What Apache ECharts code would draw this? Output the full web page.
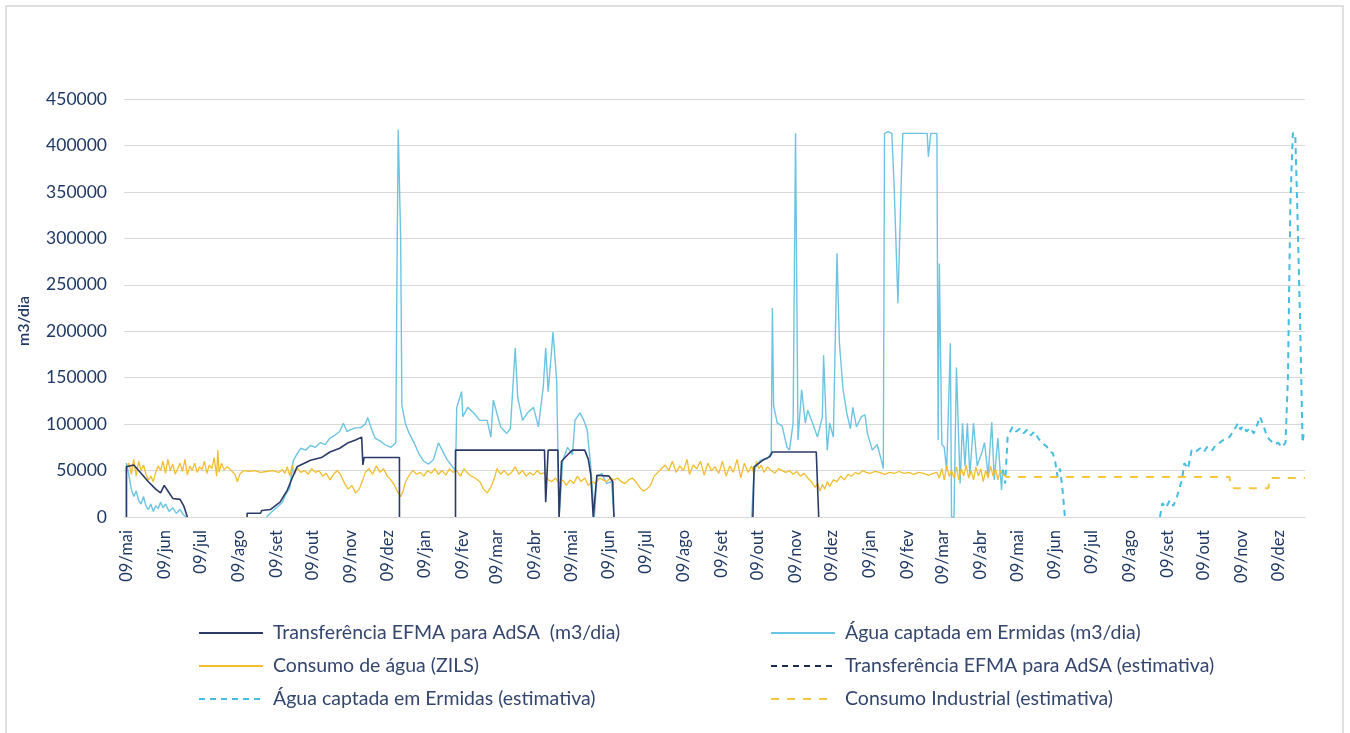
<!DOCTYPE html>
<html>
<head>
<meta charset="utf-8">
<script src="https://cdn.jsdelivr.net/npm/echarts@6/dist/echarts.min.js"></script>
<style>
html,body{margin:0;padding:0;background:#fff;}
#chart{width:1350px;height:733px;}
</style>
</head>
<body>
<div id="chart"></div>
<script>
// x values are days counted from the first "09/mai"
const tickLabels = ['09/mai','09/jun','09/jul','09/ago','09/set','09/out','09/nov','09/dez','09/jan','09/fev','09/mar','09/abr',
  '09/mai','09/jun','09/jul','09/ago','09/set','09/out','09/nov','09/dez','09/jan','09/fev','09/mar','09/abr',
  '09/mai','09/jun','09/jul','09/ago','09/set','09/out','09/nov','09/dez'];
const tickDays = [0,31,61,92,123,153,184,214,245,276,304,335,365,396,426,457,488,518,549,579,610,641,670,701,731,762,792,823,854,884,915,945];

const transferencia = [
  [0,0],[0,54000],[6,56000],[12,47000],[18,38000],[24,30000],[28,26000],[31,34000],[34,28000],[38,20000],[44,19000],[47,12000],[50,0],[51,'-'],
  [99,0],[99,4000],[110,4000],[111,7000],[118,8000],[126,16000],[132,29000],[136,42000],[140,54000],[151,61000],[160,64000],[167,70000],[175,74000],[182,80000],[188,83000],[193,86000],[194,56000],[195,64000],[224,64000],[224,0],[225,'-'],
  [270,0],[270,72000],[343,72000],[344,16000],[346,72000],[354,72000],[355,0],[357,60000],[362,67000],[366,72000],[376,72000],[379,62000],[381,45000],[383,0],[386,45000],[396,44000],[399,38000],[400,0],[401,'-'],
  [514,0],[515,54000],[522,61000],[528,65000],[530,70000],[566,70000],[568,0]
];

const aguaErmidas = [
  [0,0],[0,58000],[2,45000],[4,30000],[6,22000],[8,28000],[10,18000],[12,14000],[14,22000],[16,12000],[18,8000],[20,14000],[22,6000],[24,12000],[26,9000],[28,16000],[30,10000],[32,14000],[35,6000],[38,10000],[41,4000],[44,8000],[47,2000],[49,0],[50,'-'],
  [115,0],[118,4000],[122,9000],[124,11000],[128,16000],[131,25000],[134,31000],[137,61000],[140,68000],[143,74000],[147,72000],[151,77000],[155,75000],[159,80000],[163,78000],[167,85000],[171,88000],[175,92000],[178,101000],[181,92000],[184,94000],[188,96000],[192,96000],[196,100000],[198,107000],[201,95000],[204,85000],[208,82000],[212,78000],[217,75000],[221,80000],[222,270000],[223,417000],[224,417000],[225,300000],[226,120000],[229,100000],[232,90000],[236,80000],[240,68000],[244,60000],[248,57000],[252,62000],[256,80000],[259,72000],[263,62000],[267,55000],[270,50000],[271,118000],[275,135000],[276,108000],[280,118000],[285,112000],[290,104000],[296,104000],[299,86000],[301,126000],[307,97000],[312,90000],[315,95000],[319,182000],[321,129000],[325,104000],[329,112000],[334,118000],[338,97000],[342,140000],[344,182000],[346,135000],[348,166000],[350,199000],[353,147000],[355,0],[358,61000],[362,75000],[366,67000],[368,104000],[372,112000],[375,105000],[378,94000],[381,54000],[384,0],[386,43000],[390,47000],[394,36000],[398,38000],[400,0],[401,'-'],
  [513,0],[515,51000],[520,61000],[526,63000],[529,69000],[530,225000],[531,120000],[534,101000],[538,98000],[542,75000],[544,72000],[547,101000],[549,413000],[551,83000],[554,137000],[557,101000],[559,115000],[563,101000],[567,86000],[571,108000],[572,174000],[575,72000],[577,101000],[580,86000],[583,284000],[585,187000],[588,137000],[591,112000],[594,95000],[596,118000],[599,97000],[603,108000],[606,110000],[608,90000],[612,72000],[616,78000],[620,58000],[621,52000],[622,413000],[625,415000],[628,413000],[630,352000],[633,230000],[636,374000],[637,413000],[657,413000],[658,388000],[660,413000],[665,413000],[666,83000],[667,273000],[669,78000],[671,75000],[673,50000],[676,187000],[677,0],[679,0],[681,161000],[684,36000],[686,101000],[688,55000],[690,101000],[692,45000],[695,101000],[698,55000],[702,70000],[704,80000],[707,45000],[710,102000],[712,40000],[715,85000],[718,29000],[719,51000]
];

const consumoAgua = [
  [0,52000],[2,58000],[4,46000],[6,62000],[8,44000],[10,60000],[12,50000],[14,56000],[16,46000],[18,40000],[20,44000],[22,38000],[24,48000],[26,55000],[28,50000],[30,60000],[32,47000],[34,62000],[36,50000],[38,57000],[40,46000],[42,52000],[44,58000],[46,49000],[48,62000],[50,45000],[52,55000],[54,50000],[56,58000],[58,48000],[60,54000],[62,51000],[64,60000],[66,47000],[68,56000],[70,52000],[72,64000],[74,44000],[75,72000],[76,48000],[78,58000],[80,51000],[83,54000],[86,50000],[89,46000],[91,38000],[93,46000],[96,50000],[100,49000],[105,50000],[110,48000],[115,49000],[120,50000],[125,48000],[128,51000],[130,47000],[132,54000],[134,44000],[136,56000],[138,46000],[140,53000],[143,48000],[146,50000],[149,46000],[152,52000],[155,48000],[158,50000],[161,44000],[164,47000],[167,40000],[170,46000],[173,50000],[176,45000],[179,36000],[182,30000],[185,34000],[188,26000],[191,30000],[194,40000],[196,48000],[199,52000],[202,46000],[205,55000],[208,48000],[211,52000],[214,44000],[217,40000],[220,34000],[223,26000],[225,22000],[227,28000],[229,38000],[232,45000],[235,50000],[238,46000],[241,48000],[244,44000],[247,50000],[250,47000],[253,52000],[256,46000],[259,50000],[262,45000],[265,52000],[268,48000],[271,50000],[274,44000],[277,52000],[280,47000],[283,44000],[286,42000],[290,38000],[293,30000],[296,26000],[299,32000],[302,42000],[304,52000],[307,46000],[310,50000],[313,45000],[316,48000],[319,54000],[322,46000],[325,50000],[328,44000],[331,48000],[334,45000],[337,50000],[340,46000],[343,48000],[346,40000],[349,38000],[352,42000],[355,36000],[358,40000],[361,34000],[364,40000],[367,36000],[370,44000],[373,38000],[376,42000],[379,34000],[382,38000],[385,36000],[388,42000],[391,40000],[394,38000],[397,42000],[400,40000],[403,42000],[406,38000],[409,36000],[412,40000],[415,42000],[418,38000],[421,32000],[424,28000],[427,30000],[430,34000],[433,44000],[436,48000],[439,52000],[442,56000],[445,50000],[448,60000],[451,48000],[454,55000],[457,50000],[460,62000],[462,46000],[465,56000],[468,52000],[471,60000],[474,45000],[477,58000],[480,50000],[483,54000],[486,47000],[489,60000],[492,44000],[495,55000],[498,48000],[501,62000],[504,42000],[507,58000],[510,48000],[513,55000],[515,46000],[517,60000],[519,52000],[521,56000],[523,48000],[526,54000],[529,50000],[532,47000],[535,52000],[538,50000],[541,48000],[544,50000],[547,46000],[550,49000],[553,44000],[556,47000],[559,42000],[562,38000],[565,32000],[567,36000],[569,28000],[571,35000],[573,30000],[575,38000],[577,33000],[580,40000],[583,38000],[586,44000],[589,40000],[592,46000],[595,44000],[598,48000],[601,46000],[604,50000],[607,48000],[610,47000],[614,49000],[618,48000],[622,46000],[626,48000],[630,47000],[634,49000],[638,47000],[642,48000],[646,46000],[650,48000],[654,47000],[658,45000],[662,47000],[665,48000],[667,42000],[669,52000],[671,40000],[673,55000],[675,44000],[677,50000],[679,42000],[681,54000],[683,40000],[685,52000],[687,44000],[689,56000],[691,42000],[693,50000],[695,40000],[697,54000],[699,44000],[701,52000],[703,38000],[705,50000],[707,42000],[709,55000],[711,44000],[713,52000],[715,40000],[717,50000],[719,46000]
];

const transferenciaEstimativa = [];

const aguaEstimativa = [
  [719,51000],[721,36000],[723,86000],[727,97000],[730,92000],[733,95000],[736,90000],[739,94000],[742,88000],[745,92000],[748,85000],[751,80000],[755,76000],[758,70000],[760,69000],[762,60000],[764,43000],[766,52000],[768,30000],[770,0],[771,'-'],
  [848,0],[850,15000],[853,10000],[856,18000],[859,12000],[862,22000],[866,40000],[868,58000],[871,52000],[874,72000],[877,70000],[881,74000],[884,70000],[887,76000],[891,72000],[894,78000],[897,80000],[901,84000],[905,86000],[908,92000],[912,101000],[914,94000],[916,98000],[919,92000],[922,96000],[925,90000],[928,100000],[930,108000],[933,98000],[936,86000],[939,82000],[942,78000],[945,80000],[948,75000],[951,80000],[953,150000],[955,338000],[957,413000],[959,413000],[961,316000],[963,209000],[965,80000],[966,90000]
];

const consumoIndustrial = [
  [719,46000],[722,43000],[905,43000],[907,31000],[937,31000],[938,42000],[967,42000]
];

const yTicks = {min: 0, max: 450000, interval: 50000};

const names = {
  t: 'Transferência EFMA para AdSA  (m3/dia)',
  a: 'Água captada em Ermidas (m3/dia)',
  c: 'Consumo de água (ZILS)',
  te: 'Transferência EFMA para AdSA (estimativa)',
  ae: 'Água captada em Ermidas (estimativa)',
  ci: 'Consumo Industrial (estimativa)'
};

const FONT = 'Lato';
const TXT = '#1f3864';
const LEG = '#34466e';

const chart = echarts.init(document.getElementById('chart'), null, {renderer: 'canvas'});
function line(name, data, color, width, type, z) {
  return {
    name: name, type: 'line', data: data, symbol: 'none', showSymbol: false,
    connectNulls: false, animation: false, z: z,
    lineStyle: {color: color, width: width, type: type},
    itemStyle: {color: color}
  };
}
const legendCommon = {
  orient: 'vertical', itemWidth: 64, itemHeight: 14, itemGap: 13, padding: 0,
  itemStyle: {opacity: 0},
  textStyle: {fontFamily: FONT, fontSize: 19.5, color: LEG, padding: [0, 0, 0, 5]},
  selectedMode: false
};
chart.setOption({
  animation: false,
  backgroundColor: '#ffffff',
  graphic: [
    {type: 'rect', shape: {x: 6, y: 6, width: 1337, height: 760}, style: {fill: 'none', stroke: '#d6d6d6', lineWidth: 1.5}, silent: true},
    {type: 'text', x: 24, y: 321, rotation: Math.PI / 2, style: {text: 'm3/dia', fill: TXT, font: '600 16px ' + FONT, align: 'center', verticalAlign: 'middle'}}
  ],
  grid: {left: 124, right: 45, top: 99, bottom: 216},
  legend: [
    Object.assign({left: 198, top: 623, data: [names.t, names.c, names.ae]}, legendCommon),
    Object.assign({left: 770, top: 623, data: [names.a, names.te, names.ci]}, legendCommon)
  ],
  xAxis: {
    type: 'value', min: -2, max: 967,
    axisLine: {show: true, lineStyle: {color: '#d9d9d9', width: 1}},
    axisTick: {show: false},
    splitLine: {show: false},
    axisLabel: {
      customValues: tickDays,
      rotate: 90, margin: 13,
      fontFamily: FONT, fontSize: 16.5, color: TXT,
      formatter: function (v) { const i = tickDays.indexOf(v); return i >= 0 ? tickLabels[i] : ''; }
    }
  },
  yAxis: {
    type: 'value', min: yTicks.min, max: yTicks.max, interval: yTicks.interval,
    axisLine: {show: false}, axisTick: {show: false},
    splitLine: {lineStyle: {color: '#d9d9d9', width: 1}},
    axisLabel: {margin: 17, fontFamily: FONT, fontSize: 17.5, color: TXT, formatter: function (v) { return String(v); }}
  },
  series: [
    line(names.a, aguaErmidas, '#6cc4e2', 1.4, 'solid', 2),
    line(names.c, consumoAgua, '#f2be2e', 1.3, 'solid', 3),
    line(names.t, transferencia, '#2b3a67', 1.6, 'solid', 4),
    line(names.te, transferenciaEstimativa, '#1c2b4f', 2, [6, 5], 5),
    line(names.ae, aguaEstimativa, '#45bde0', 2, [6, 5], 5),
    line(names.ci, consumoIndustrial, '#f5c640', 2, [8, 8], 5)
  ]
});
</script>
</body>
</html>
